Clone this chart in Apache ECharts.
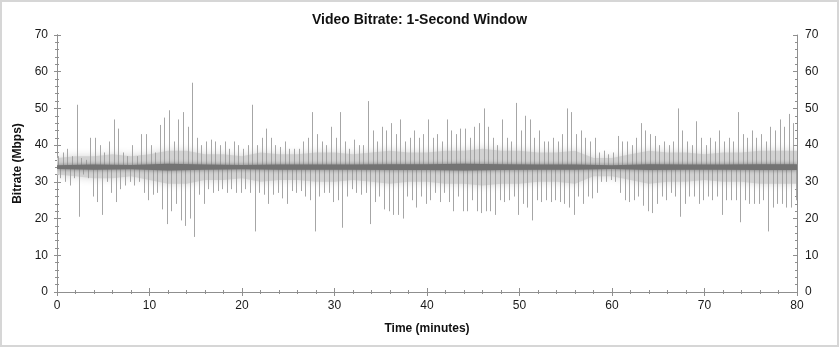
<!DOCTYPE html>
<html><head><meta charset="utf-8">
<script src="https://cdn.jsdelivr.net/npm/echarts@6/dist/echarts.min.js"></script>
<style>
html,body{margin:0;padding:0;background:#fff;}
#c{position:absolute;left:0;top:0;width:839px;height:347px;}
#frame{position:absolute;left:0;top:0;width:839px;height:347px;box-sizing:border-box;border:2px solid #d6d6d6;pointer-events:none;}
</style></head>
<body><div id="c"></div><div id="frame"></div>
<script>
// ---- data ----
const binMinutes = 0.5; // each bin: peak high and peak low within a half-minute
const baseline = 34;     // centre of the signal (Mbps)
const spikeHigh = [
 37,38,39,37,51,36.5,36,42,42,40,
 38,41,47,44.5,38,37,40,37,43,43,
 40,38,45.5,47.5,49.5,41,47,49,45,57,
 42,40,41,41.5,41,40,41,39,41,40,
 39,40,51,40,42,44.5,42,40,39.5,41,
 39,39,39,41,42,49,43,41,40,45,
 42,49,41,39,41.5,40,40,52,44,41,
 45,44,46,43,47,41,42,44,42,43,
 47,42,43,41,47,44,43,44.5,44.5,42,
 45,46,50,45,42,40,47,42,41,51.5,
 44,48,47,42,44,41,41,42,41,43,
 50,49,43,44,42,41,42,38,38.5,37.5,
 38,42.5,41,41,40,42,46,44,43,42.5,
 40,41,40,41,50,44,41,40,46.5,42,
 40,42,41,44,41,42,41,49,43,42,
 44,42,43,41,45,44,47,45,48.5,46
];
const spikeLow = [
 31,30,29,31,20.5,32,31,26,24.5,21,
 30,27,24.5,28,29,30,29,30,27,25,
 26.5,27,22.5,18.5,22,24,19.5,18,20,15,
 26.5,24,28,27,27.5,28,27,28,27,27,
 28,27,16.5,27,26.5,24,26.5,27,25.5,24,
 27.5,27,27.5,26,25,16.5,26,27,27,24.5,
 25,17.5,26,28,27,26.5,27,18.5,24.5,26,
 22.5,22,21,21,20,26,25,23,26,24,
 25,27,24.5,27,24.5,22,26,22,22,25,
 22,21.5,22,22,21,25,24.5,25,26,21,
 24,23,19.5,25,24.5,25,24.5,25,24.5,24,
 23,21,26,24,26,25.5,27,30,30,30.5,
 30,27,25,24.5,25,26,23.5,22,21.5,24,
 26,25,27,26,20.5,24,26,26,24,25,
 26,25,26,21,25,25,25,19,25,24,
 24,24,25,16.5,23,24,24,23,23,25
];
const bandStep = 2; // dense light-grey band, every 2 minutes
const bandHigh = [36.5,37,37,37.5,37,37.5,38.5,38.5,37.5,37.5,37,38,37.5,37.5,38,38,37.5,38,38.5,38,38,38.5,38.5,39,38.5,38.5,38,38,38.5,36.5,36.5,37.5,38.5,38,38,37.5,38,38,38.5,38.5,38.5];
const bandLow  = [32,31.5,31,31,31.5,30.5,29.5,29.5,30.5,30.5,31,30,30.5,30.5,30,30,30.5,30,29.5,30,30,29.5,29.5,29,29.5,29.5,30,30,29.5,31.5,31.5,30.5,29.5,30,30,30.5,30,30,29.5,29.5,29.5];
const coreStep = 4; // dark central core, every 4 minutes
const coreHigh = [34.5,34.7,34.6,34.9,34.7,34.6,34.7,34.7,34.7,34.8,34.8,34.9,34.8,34.7,34.7,34.5,34.8,34.7,34.7,34.8,34.8];
const coreLow  = [33.5,33.3,33.4,33.1,33.3,33.4,33.3,33.3,33.3,33.2,33.2,33.1,33.2,33.3,33.3,33.5,33.2,33.3,33.3,33.2,33.2];
const xMin = 0, xMax = 80, xStep = 10;
const yMin = 0, yMax = 70, yStep = 10;

// ---- build series data ----
const spikeData = spikeHigh.map((h, i) => [i * binMinutes, h, spikeLow[i]]);

function bandPolygon(step, hi, lo, fill, blur) {
  return function (params, api) {
    const pts = [];
    for (let i = 0; i < hi.length; i++) pts.push(api.coord([i * step, hi[i]]));
    for (let i = lo.length - 1; i >= 0; i--) pts.push(api.coord([i * step, lo[i]]));
    return {type: 'polygon', shape: {points: pts},
            style: {fill: fill, shadowBlur: blur, shadowColor: fill}};
  };
}

const axisGrey = '#8f8f8f';
const fontFam = '"Liberation Sans", Arial, sans-serif';
function xa(extra) {
  return Object.assign({
    type: 'value', min: xMin, max: xMax, interval: xStep,
    axisLine: {show: true, lineStyle: {color: axisGrey, width: 1}},
    axisTick: {show: true, inside: false, length: 3, lineStyle: {color: axisGrey}},
    minorTick: {show: true, splitNumber: 5, length: 2, lineStyle: {color: axisGrey}},
    splitLine: {show: false}, minorSplitLine: {show: false},
    axisLabel: {show: false}
  }, extra);
}
function ya(extra) {
  return Object.assign({
    type: 'value', min: yMin, max: yMax, interval: yStep,
    axisLine: {show: true, lineStyle: {color: axisGrey, width: 1}},
    axisTick: {show: true, inside: false, length: 3, lineStyle: {color: axisGrey}},
    minorTick: {show: true, splitNumber: 5, length: 2, lineStyle: {color: axisGrey}},
    splitLine: {show: false}, minorSplitLine: {show: false},
    axisLabel: {show: false}
  }, extra);
}
const labelStyle = {show: true, color: '#1a1a1a', fontSize: 12, fontFamily: fontFam};
const inTick = {show: true, inside: true, length: 4, lineStyle: {color: axisGrey}};
const inMinor = {show: true, splitNumber: 5, length: 2, lineStyle: {color: axisGrey}};

const chart = echarts.init(document.getElementById('c'), null, {renderer: 'canvas'});
chart.setOption({
  animation: false,
  backgroundColor: '#ffffff',
  title: {
    text: 'Video Bitrate: 1-Second Window', left: 'center', top: 8,
    textStyle: {fontSize: 14, fontWeight: 'bold', color: '#111', fontFamily: fontFam}
  },
  grid: {left: 57, right: 42, top: 35, bottom: 55, containLabel: false},
  xAxis: [
    xa({position: 'bottom', axisLabel: Object.assign({margin: 8}, labelStyle),
        name: 'Time (minutes)', nameLocation: 'middle', nameGap: 31,
        nameTextStyle: {fontSize: 12, fontWeight: 'bold', color: '#111', fontFamily: fontFam}}),
    xa({position: 'bottom', axisTick: inTick, minorTick: inMinor}),
    xa({position: 'top', axisTick: inTick, minorTick: inMinor})
  ],
  yAxis: [
    ya({position: 'left', axisLabel: Object.assign({margin: 9}, labelStyle),
        name: 'Bitrate (Mbps)', nameLocation: 'middle', nameGap: 33,
        nameTextStyle: {fontSize: 12, fontWeight: 'bold', color: '#111', fontFamily: fontFam}}),
    ya({position: 'left', axisTick: inTick, minorTick: inMinor}),
    ya({position: 'right', axisLabel: Object.assign({margin: 8}, labelStyle)}),
    ya({position: 'right', axisTick: inTick, minorTick: inMinor})
  ],
  series: [
    {type: 'custom', silent: true, z: 1, data: [[0, 0]], clip: true,
     renderItem: bandPolygon(bandStep, bandHigh, bandLow, '#d2d2d2', 8)},
    {type: 'custom', silent: true, z: 2, data: spikeData, clip: true,
     renderItem: function (params, api) {
       const t = api.value(0);
       const up0 = api.coord([t + 0.12, baseline]);
       const up1 = api.coord([t + 0.12, api.value(1)]);
       const dn0 = api.coord([t + 0.36, baseline]);
       const dn1 = api.coord([t + 0.36, api.value(2)]);
       const st = {stroke: '#9c9c9c', lineWidth: 0.9};
       return {type: 'group', children: [
         {type: 'line', shape: {x1: Math.round(up0[0]) + 0.5, y1: up0[1], x2: Math.round(up1[0]) + 0.5, y2: up1[1]}, style: st},
         {type: 'line', shape: {x1: Math.round(dn0[0]) + 0.5, y1: dn0[1], x2: Math.round(dn1[0]) + 0.5, y2: dn1[1]}, style: st}
       ]};
     }},
    {type: 'custom', silent: true, z: 3, data: [[0, 0]], clip: true,
     renderItem: bandPolygon(coreStep, coreHigh, coreLow, '#737373', 4)}
  ]
});
</script>
</body></html>
